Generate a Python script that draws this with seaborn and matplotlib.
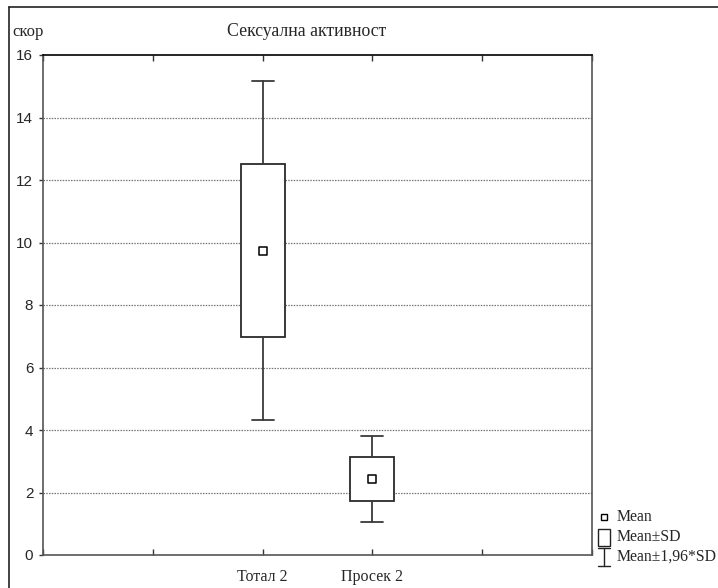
import matplotlib
matplotlib.use("Agg")
import matplotlib.pyplot as plt
from matplotlib.lines import Line2D
from matplotlib.patches import Rectangle
import seaborn as sns
import pandas as pd

# Summary statistics per variable
categories = ["Тотал 2", "Просек 2"]
means = [9.74, 2.43]
sds = [2.77, 0.70]
positions = [2, 3]
y_ticks = [0, 2, 4, 6, 8, 10, 12, 14, 16]

sns.set_style("white")
plt.rcParams["font.family"] = ["Liberation Serif", "DejaVu Serif"]

W, H = 718, 588
fig = plt.figure(figsize=(W / 100, H / 100), dpi=100)
ax = fig.add_axes([43 / W, 1 - 555 / H, 549 / W, 500 / H])

df = pd.DataFrame({"var": categories, "pos": positions, "mean": means, "sd": sds})

stats = []
for _, r in df.iterrows():
    stats.append({
        "label": r["var"],
        "med": r["mean"],
        "mean": r["mean"],
        "q1": r["mean"] - r["sd"],
        "q3": r["mean"] + r["sd"],
        "whislo": r["mean"] - 1.96 * r["sd"],
        "whishi": r["mean"] + 1.96 * r["sd"],
        "fliers": [],
    })

ax.bxp(stats, positions=df["pos"].tolist(), widths=0.4, showmeans=False,
       showfliers=False, patch_artist=True,
       boxprops=dict(facecolor="white", edgecolor="#2a2a2a", linewidth=1.3),
       medianprops=dict(linewidth=0),
       whiskerprops=dict(color="#3a3a3a", linewidth=1.3),
       capprops=dict(color="#3a3a3a", linewidth=1.3),
       capwidths=0.2, zorder=3)

sns.scatterplot(data=df, x="pos", y="mean", marker="s", s=40,
                facecolor="white", edgecolor="black", linewidth=1.1,
                ax=ax, zorder=4, legend=False)

ax.set_xlim(0, 5)
ax.set_ylim(0, 16)
ax.set_xlabel("")
ax.set_ylabel("")

ax.set_xticks([0, 1, 2, 3, 4, 5])
ax.set_xticklabels(["", ""] + categories + ["", ""], fontsize=11.5)
ax.tick_params(axis="x", direction="in", length=4, width=1, color="#333333",
               top=True, bottom=True, pad=10)
ax.set_yticks(y_ticks)
ax.set_yticklabels([str(v) for v in y_ticks], family="Liberation Sans", fontsize=11)
ax.tick_params(axis="y", direction="out", length=3, width=1, color="#333333",
               left=True, right=False, pad=4)

ax.grid(False)
for v in y_ticks[1:-1]:
    ax.axhline(v, color="#777777", linestyle=(0, (1.2, 1.0)), linewidth=0.9, zorder=1)

for side in ["left", "bottom", "right"]:
    ax.spines[side].set_color("#555555")
    ax.spines[side].set_linewidth(1.2)
ax.spines["top"].set_color("black")
ax.spines["top"].set_linewidth(1.2)

# Titles
fig.text(307 / W, 1 - 32 / H, "Сексуална активност", ha="center", va="center", fontsize=12.8)
fig.text(12 / W, 1 - 32 / H, "скор", ha="left", va="center", fontsize=12)

# Outer frame lines
fig.add_artist(Line2D([9 / W, 1], [1 - 7 / H, 1 - 7 / H], color="#222222", linewidth=1.2))
fig.add_artist(Line2D([9 / W, 9 / W], [0, 1 - 7 / H], color="#222222", linewidth=1.2))

# Legend
tx = 617 / W
y1, y2, y3 = 517, 537, 557
fig.add_artist(Line2D([604 / W], [1 - y1 / H], marker="s", markersize=5,
                      markerfacecolor="white", markeredgecolor="black",
                      markeredgewidth=1, linestyle="none"))
fig.text(tx, 1 - y1 / H, "Mean", ha="left", va="center", fontsize=11.3)
fig.add_artist(Rectangle((598 / W, 1 - (y2 + 9) / H), 12 / W, 17 / H, facecolor="white",
                         edgecolor="#222222", linewidth=1, transform=fig.transFigure))
fig.text(tx, 1 - y2 / H, "Mean±SD", ha="left", va="center", fontsize=11.3)
xc = 604 / W
fig.add_artist(Line2D([xc, xc], [1 - (y3 - 9) / H, 1 - (y3 + 9) / H], color="#222222", linewidth=1))
fig.add_artist(Line2D([598 / W, 610 / W], [1 - (y3 - 9) / H, 1 - (y3 - 9) / H], color="#222222", linewidth=1))
fig.add_artist(Line2D([598 / W, 610 / W], [1 - (y3 + 9) / H, 1 - (y3 + 9) / H], color="#222222", linewidth=1))
fig.text(tx, 1 - y3 / H, "Mean±1,96*SD", ha="left", va="center", fontsize=11.3)

fig.savefig("out.png", dpi=100, facecolor="white")
